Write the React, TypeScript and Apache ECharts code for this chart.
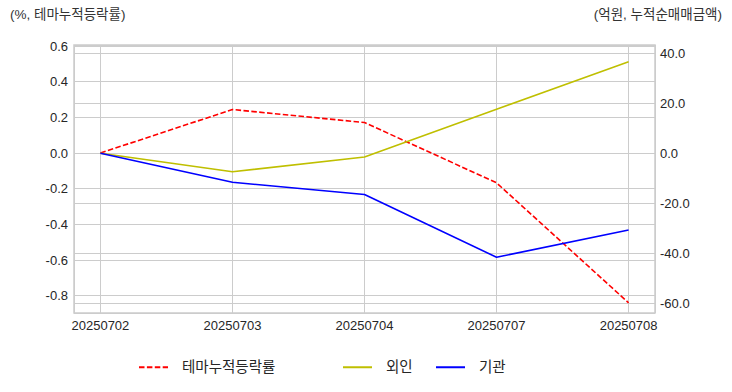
import React, { useEffect, useRef } from "react";
import * as echarts from "echarts";

const dates = ["20250702", "20250703", "20250704", "20250707", "20250708"];
const themeReturn = [0.0, 0.244, 0.171, -0.167, -0.84];
const foreign = [0.0, -7.4, -1.5, 17.6, 36.6];
const institution = [0.0, -11.6, -16.5, -41.6, -30.7];

const seriesNames = ["테마누적등락률", "외인", "기관"];
const leftTitle = "(%, 테마누적등락률)";
const rightTitle = "(억원, 누적순매매금액)";

const FONT = "'Liberation Sans', 'Noto Sans CJK KR', sans-serif";
const TXT = "#262626";
const GRID = "#cccccc";

export default function App() {
  const ref = useRef<HTMLDivElement>(null);
  useEffect(() => {
    if (!ref.current) return;
    const chart = echarts.init(ref.current, null, { renderer: "svg" });
    const pairs = (arr: number[]) => arr.map((v, i) => [i, v]);
    const legendCommon = {
      top: 360,
      padding: 0,
      itemWidth: 29,
      itemHeight: 10,
      itemGap: 14,
      itemStyle: { opacity: 0 },
      textStyle: { fontFamily: FONT, fontSize: 14.5, color: TXT, padding: [0, 0, 0, 9] },
    };
    chart.setOption({
      animation: false,
      backgroundColor: "#ffffff",
      textStyle: { fontFamily: FONT },
      grid: {
        left: 74,
        right: 77,
        top: 45,
        height: 268,
        show: true,
        borderColor: GRID,
        borderWidth: 1.5,
        backgroundColor: "transparent",
      },
      legend: [
        { ...legendCommon, left: 138, data: [seriesNames[0]] },
        { ...legendCommon, left: 342, data: [seriesNames[1]] },
        { ...legendCommon, left: 435, data: [seriesNames[2]] },
      ],
      xAxis: {
        type: "value",
        min: -0.2,
        max: 4.2,
        splitNumber: 5,
        axisLine: { show: false },
        axisTick: { show: false },
        splitLine: { show: true, lineStyle: { color: GRID, width: 1 } },
        axisLabel: {
          color: TXT,
          fontSize: 13,
          fontFamily: FONT,
          margin: 6,
          showMinLabel: false,
          showMaxLabel: false,
          formatter: (v: number) =>
            Number.isInteger(v) && v >= 0 && v < dates.length ? dates[v] : "",
        },
      },
      yAxis: [
        {
          type: "value",
          position: "left",
          min: -0.897,
          max: 0.6057,
          splitNumber: 8,
          axisLine: { show: false },
          axisTick: { show: false },
          splitLine: { show: true, lineStyle: { color: GRID, width: 1 } },
          axisLabel: {
            color: TXT,
            fontSize: 13,
            fontFamily: FONT,
            margin: 6,
            showMinLabel: false,
            showMaxLabel: false,
            formatter: (v: number) => v.toFixed(1),
          },
        },
        {
          type: "value",
          position: "right",
          min: -63.9,
          max: 43.3,
          splitNumber: 5,
          axisLine: { show: false },
          axisTick: { show: false },
          splitLine: { show: true, lineStyle: { color: GRID, width: 1 } },
          axisLabel: {
            color: TXT,
            fontSize: 13,
            fontFamily: FONT,
            margin: 5,
            showMinLabel: false,
            showMaxLabel: false,
            formatter: (v: number) => v.toFixed(1),
          },
        },
      ],
      graphic: [
        {
          type: "text",
          left: 10,
          top: 8,
          style: { text: leftTitle, fontSize: 13.5, fontFamily: FONT, fill: "#333333" },
        },
        {
          type: "text",
          right: 10,
          top: 8,
          style: { text: rightTitle, fontSize: 13.5, fontFamily: FONT, fill: "#333333" },
        },
      ],
      series: [
        {
          name: seriesNames[0],
          type: "line",
          yAxisIndex: 0,
          data: pairs(themeReturn),
          symbol: "none",
          lineStyle: { color: "#ff0000", width: 1.6, type: [5.5, 2.4] },
          itemStyle: { color: "#ff0000" },
        },
        {
          name: seriesNames[1],
          type: "line",
          yAxisIndex: 1,
          data: pairs(foreign),
          symbol: "none",
          lineStyle: { color: "#bfbf00", width: 1.6 },
          itemStyle: { color: "#bfbf00" },
        },
        {
          name: seriesNames[2],
          type: "line",
          yAxisIndex: 1,
          data: pairs(institution),
          symbol: "none",
          lineStyle: { color: "#0000ff", width: 1.6 },
          itemStyle: { color: "#0000ff" },
        },
      ],
    });
    return () => chart.dispose();
  }, []);
  return <div ref={ref} style={{ width: 732, height: 392, position: "absolute", left: 0, top: 0 }} />;
}
